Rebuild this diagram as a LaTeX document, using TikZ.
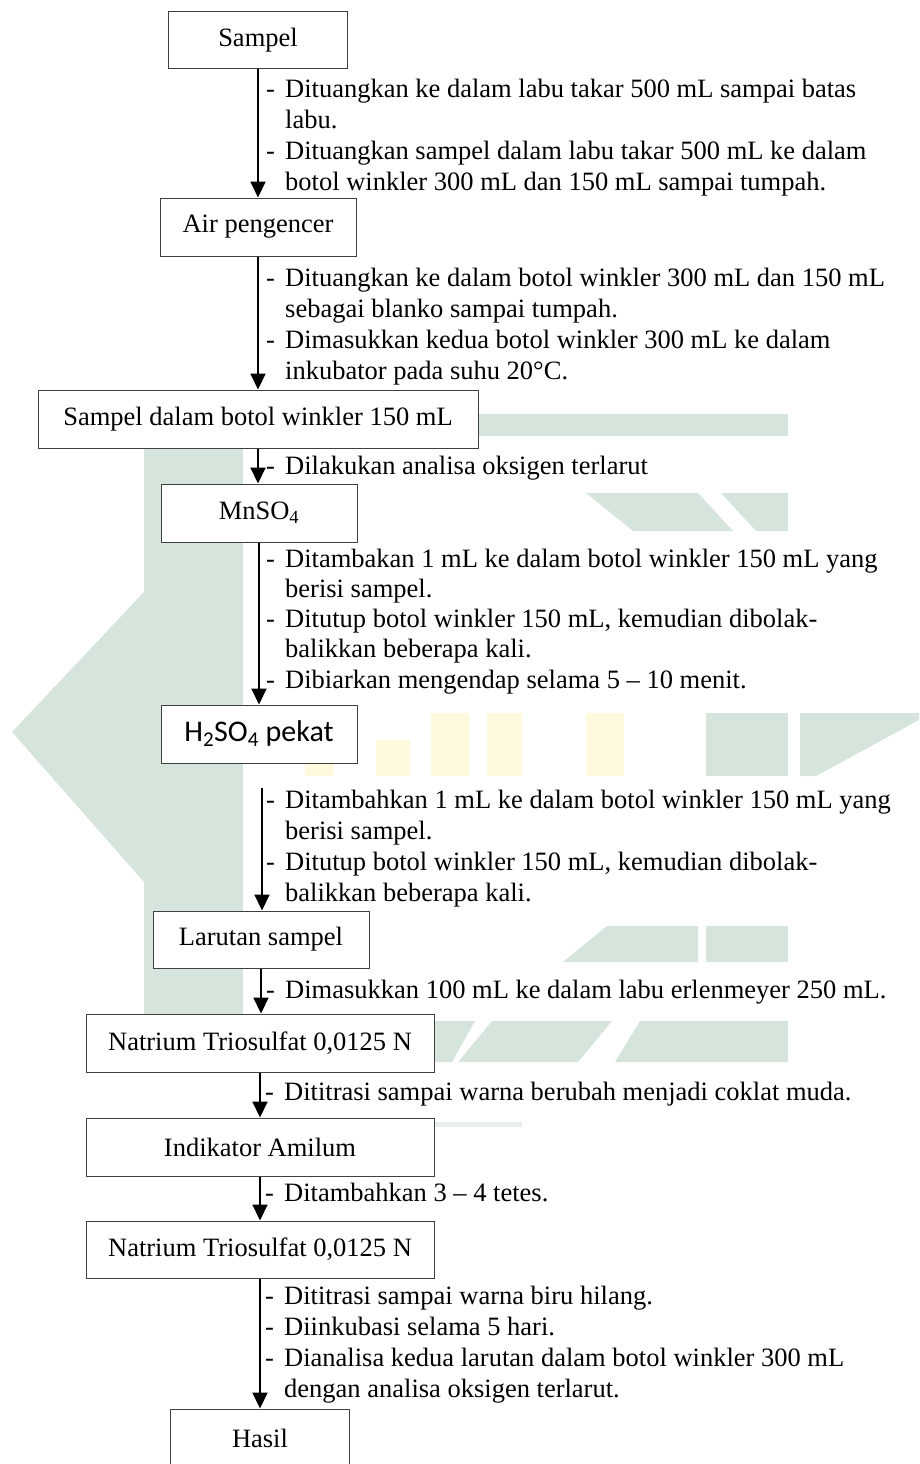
\documentclass[tikz,border=0pt]{standalone}
\usepackage{fontspec}
\setmainfont{Liberation Serif}
\newfontfamily\calib{Carlito}
\usetikzlibrary{arrows.meta,calc}
\definecolor{wm}{RGB}{214,229,220}
\definecolor{wmy}{RGB}{255,250,222}
\tikzset{
  box/.style={draw=black!75, line width=1pt, fill=white, inner sep=0pt, align=center},
  arr/.style={line width=2pt, -{Triangle[length=16pt,width=15pt]}},
  stepnote/.style={anchor=base west, inner sep=0pt},
}
\newcommand{\dl}{\makebox[19pt][l]{-}}
\newcommand{\il}{\hspace*{19pt}}
\begin{document}
\begin{tikzpicture}[x=1pt,y=-1pt,font=\fontsize{26.5pt}{31pt}\selectfont]
\useasboundingbox (0,0) rectangle (919,1464);
% watermark (approximate)
\fill[wm] (470,414) rectangle (788,436);
\fill[wm] (586,493) -- (698,493) -- (733,531) -- (633,531) -- cycle;
\fill[wm] (721,493) -- (788,493) -- (788,531) -- (756,531) -- cycle;
\fill[wm] (144,448) rectangle (243,1040);
\fill[wm] (144,592) -- (12,732) -- (144,882) -- cycle;
\fill[wm] (706,713) rectangle (788,776);
\fill[wm] (800,713) -- (919,713) -- (919,720) -- (816,776) -- (800,776) -- cycle;
\fill[wmy] (305,722) rectangle (334,776);
\fill[wmy] (376,740) rectangle (410,776);
\fill[wmy] (431,713) rectangle (469,776);
\fill[wmy] (487,713) rectangle (522,776);
\fill[wmy] (586,713) rectangle (624,776);
\fill[wm] (607,926) -- (698,926) -- (698,962) -- (563,962) -- cycle;
\fill[wm] (706,926) rectangle (788,962);
\fill[wm] (433,1021) -- (475,1021) -- (452,1062) -- (433,1062) -- cycle;
\fill[wm] (492,1021) -- (612,1021) -- (578,1062) -- (458,1062) -- cycle;
\fill[wm] (640,1021) -- (788,1021) -- (788,1062) -- (615,1062) -- cycle;
\fill[wm!60] (431,1122) rectangle (522,1127);
% boxes
\node[box, minimum width=179pt, minimum height=57pt] (sampel) at (258,40.5) {Sampel};
\node[box, minimum width=196pt, minimum height=58pt] (air) at (258,227) {Air pengencer};
\node[box, minimum width=440pt, minimum height=58pt] (sdb) at (258,419) {Sampel dalam botol winkler 150 mL};
\node[box, minimum width=196pt, minimum height=58pt] (mn) at (259,513) {MnSO\textsubscript{4}};
\node[box, minimum width=196pt, minimum height=58pt] (h2) at (259,734) {\calib\fontsize{30pt}{34pt}\selectfont H\textsubscript{2}SO\textsubscript{4} pekat};
\node[box, minimum width=216pt, minimum height=57pt] (lar) at (261,939.5) {Larutan sampel};
\node[box, minimum width=348pt, minimum height=58pt] (nat1) at (260,1043) {Natrium Triosulfat 0,0125 N};
\node[box, minimum width=348pt, minimum height=58pt] (ind) at (260,1147) {Indikator Amilum};
\node[box, minimum width=348pt, minimum height=57pt] (nat2) at (260,1249.5) {Natrium Triosulfat 0,0125 N};
\node[box, minimum width=179pt, minimum height=58pt] (hasil) at (260,1438) {Hasil};
% arrows
\draw[arr] (sampel.south) -- (sampel.south |- air.north);
\draw[arr] (air.south) -- (air.south |- sdb.north);
\draw[arr] (sdb.south) -- (sdb.south |- mn.north);
\draw[arr] (mn.south) -- (mn.south |- h2.north);
\coordinate (h2s) at (262,788);
\draw[arr] (h2s) -- (h2s |- lar.north);
\draw[arr] (lar.south) -- (lar.south |- nat1.north);
\draw[arr] (nat1.south) -- (nat1.south |- ind.north);
\draw[arr] (ind.south) -- (ind.south |- nat2.north);
\draw[arr] (nat2.south) -- (nat2.south |- hasil.north);
% notes
\node[stepnote] (n1) at (266,97) {\parbox[t]{640pt}{\dl Dituangkan ke dalam labu takar 500 mL sampai batas\\ \il labu.\\ \dl Dituangkan sampel dalam labu takar 500 mL ke dalam\\ \il botol winkler 300 mL dan 150 mL sampai tumpah.}};
\node[stepnote] (n2) at (266,286) {\parbox[t]{640pt}{\dl Dituangkan ke dalam botol winkler 300 mL dan 150 mL\\ \il sebagai blanko sampai tumpah.\\ \dl Dimasukkan kedua botol winkler 300 mL ke dalam\\ \il inkubator pada suhu 20°C.}};
\node[stepnote] (n3) at (266,474) {\dl Dilakukan analisa oksigen terlarut};
\node[stepnote] (n4) at (266,567) {\parbox[t]{640pt}{\fontsize{26.5pt}{30.3pt}\selectfont\dl Ditambakan 1 mL ke dalam botol winkler 150 mL yang\\ \il berisi sampel.\\ \dl Ditutup botol winkler 150 mL, kemudian dibolak-\\ \il balikkan beberapa kali.\\ \dl Dibiarkan mengendap selama 5 -- 10 menit.}};
\node[stepnote] (n5) at (266,808) {\parbox[t]{640pt}{\dl Ditambahkan 1 mL ke dalam botol winkler 150 mL yang\\ \il berisi sampel.\\ \dl Ditutup botol winkler 150 mL, kemudian dibolak-\\ \il balikkan beberapa kali.}};
\node[stepnote] (n6) at (266,998) {\dl Dimasukkan 100 mL ke dalam labu erlenmeyer 250 mL.};
\node[stepnote] (n7) at (265,1100) {\dl Dititrasi sampai warna berubah menjadi coklat muda.};
\node[stepnote] (n8) at (265,1201) {\dl Ditambahkan 3 -- 4 tetes.};
\node[stepnote] (n9) at (265,1304) {\parbox[t]{640pt}{\dl Dititrasi sampai warna biru hilang.\\ \dl Diinkubasi selama 5 hari.\\ \dl Dianalisa kedua larutan dalam botol winkler 300 mL\\ \il dengan analisa oksigen terlarut.}};
\end{tikzpicture}
\end{document}
